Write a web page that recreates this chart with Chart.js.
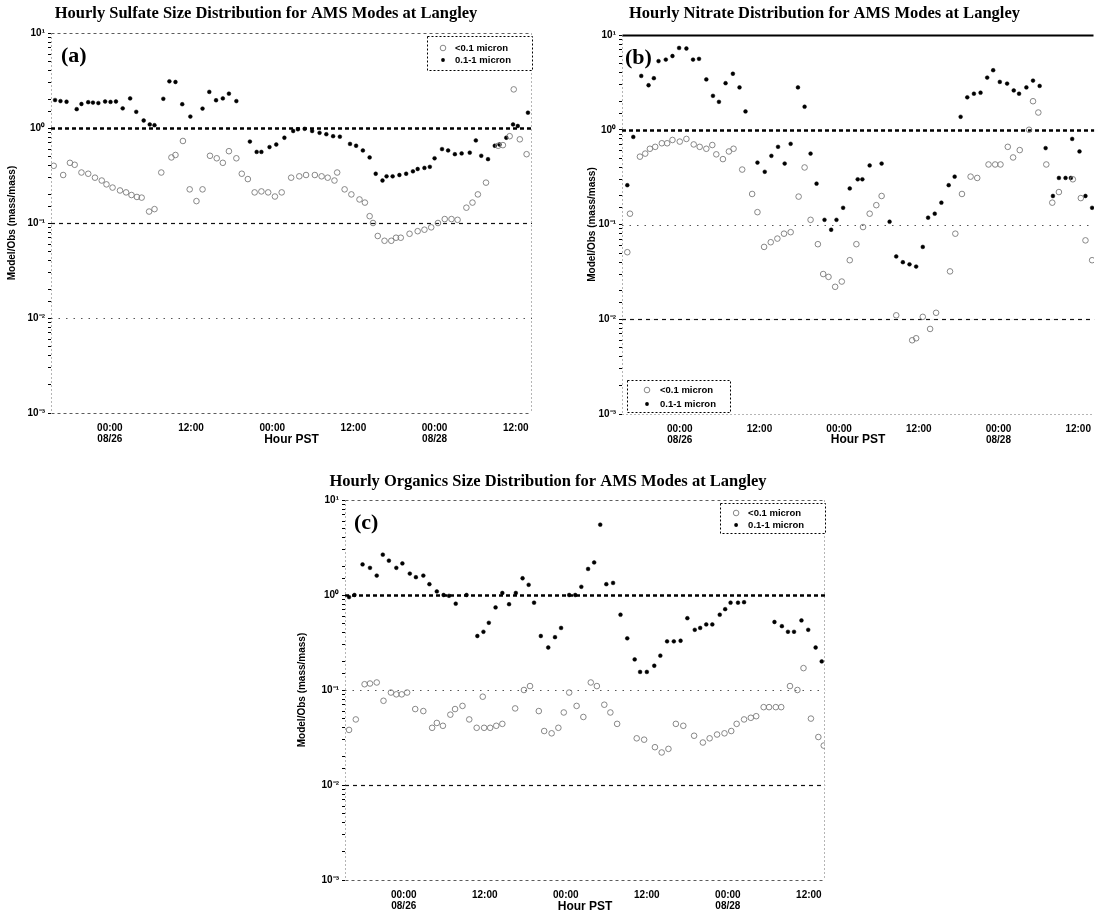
<!DOCTYPE html>
<html>
<head>
<meta charset="utf-8">
<script src="https://cdn.jsdelivr.net/npm/chart.js@4.4.1/dist/chart.umd.min.js"></script>
<style>
  html, body { margin: 0; padding: 0; background: #fff; }
  body { width: 1099px; height: 919px; position: relative; overflow: hidden; }
  .panel { position: absolute; }
  .panel canvas { display: block; }
</style>
</head>
<body>
<div class="panel" style="left:0px;top:0px;"><canvas id="chartA" width="550" height="448"></canvas></div>
<div class="panel" style="left:550px;top:0px;"><canvas id="chartB" width="549" height="448"></canvas></div>
<div class="panel" style="left:270px;top:450px;"><canvas id="chartC" width="560" height="469"></canvas></div>
<script>
// Hours are counted from 08/26 00:00 PST.
const xTickHours = [0, 12, 24, 36, 48, 60];
const xTickLabels = [['00:00', '08/26'], ['12:00'], ['00:00'], ['12:00'], ['00:00', '08/28'], ['12:00']];
const yTickValues = [0.001, 0.01, 0.1, 1, 10];
const yTickLabels = ['10\u207B\u00B3', '10\u207B\u00B2', '10\u207B\u00B9', '10\u2070', '10\u00B9'];
const refLevels = [1, 0.1, 0.01];
const seriesNames = ['<0.1 micron', '0.1-1 micron'];

// Sulfate, <0.1 micron
const sulfateSmallHours = [-8.3,-6.9,-5.9,-5.2,-4.2,-3.2,-2.2,-1.2,-0.5,0.4,1.5,2.4,3.2,4.0,4.7,5.8,6.6,7.6,9.1,9.7,10.8,11.8,12.8,13.7,14.8,15.8,16.7,17.6,18.7,19.5,20.4,21.4,22.4,23.4,24.4,25.4,26.8,28,29,30.3,31.3,32.2,33.2,33.6,34.7,35.7,36.9,37.7,38.4,38.9,39.6,40.6,41.6,42.3,43,44.3,45.5,46.5,47.5,48.5,49.5,50.5,51.4,52.7,53.6,54.4,55.6,57.4,58.1,59.1,59.7,60.6,61.6];
const sulfateSmall = [0.40,0.32,0.43,0.41,0.34,0.33,0.30,0.28,0.255,0.236,0.22,0.21,0.197,0.188,0.185,0.132,0.14,0.34,0.49,0.52,0.73,0.226,0.17,0.226,0.51,0.48,0.43,0.57,0.48,0.33,0.29,0.21,0.215,0.21,0.19,0.21,0.30,0.31,0.32,0.32,0.31,0.30,0.28,0.34,0.226,0.2,0.177,0.164,0.118,0.1,0.073,0.065,0.065,0.07,0.07,0.077,0.082,0.085,0.09,0.1,0.11,0.11,0.108,0.145,0.164,0.2,0.266,0.65,0.66,0.82,2.55,0.76,0.53];
// Sulfate, 0.1-1 micron
const sulfateMidHours = [-8.1,-7.3,-6.4,-4.9,-4.2,-3.2,-2.5,-1.7,-0.7,0.1,0.9,1.9,3.0,3.9,5.0,5.9,6.6,7.9,8.8,9.7,10.7,11.9,13.7,14.7,15.7,16.7,17.6,18.7,20.7,21.7,22.4,23.6,24.6,25.8,27.1,27.8,28.8,29.9,31,32,33,34,35.5,36.4,37.4,38.4,39.3,40.3,40.9,41.8,42.8,43.8,44.8,45.5,46.5,47.3,48,49.1,50,51,52,53.2,54.1,54.9,55.9,56.9,57.6,58.6,59.6,60.3,61.8];
const sulfateMid = [1.97,1.92,1.89,1.58,1.79,1.87,1.85,1.83,1.9,1.88,1.9,1.61,2.05,1.48,1.2,1.09,1.07,2.03,3.1,3.05,1.78,1.32,1.6,2.4,1.96,2.05,2.3,1.92,0.72,0.56,0.56,0.63,0.67,0.79,0.93,0.97,0.98,0.93,0.89,0.86,0.82,0.81,0.68,0.65,0.58,0.49,0.33,0.28,0.31,0.31,0.32,0.33,0.35,0.37,0.38,0.39,0.48,0.6,0.58,0.53,0.54,0.55,0.74,0.51,0.47,0.65,0.67,0.79,1.09,1.05,1.45];

// Nitrate, <0.1 micron
const nitrateSmallHours = [-7.9,-7.5,-6.0,-5.2,-4.5,-3.7,-2.7,-1.9,-1.1,0,1.0,2.1,3.0,4.0,4.9,5.5,6.5,7.4,8.1,9.4,10.9,11.7,12.7,13.7,14.7,15.7,16.7,17.9,18.8,19.7,20.8,21.6,22.4,23.4,24.4,25.6,26.6,27.6,28.6,29.6,30.4,32.6,35.0,35.6,36.6,37.7,38.6,40.7,41.5,42.5,43.8,44.8,46.5,47.5,48.3,49.4,50.2,51.2,52.6,53.2,54.0,55.2,56.1,57.1,59.2,60.4,61.1,62.1];
const nitrateSmall = [0.051,0.13,0.52,0.56,0.63,0.66,0.72,0.72,0.78,0.75,0.8,0.70,0.66,0.63,0.69,0.55,0.49,0.59,0.63,0.38,0.21,0.135,0.058,0.065,0.071,0.08,0.083,0.197,0.40,0.112,0.062,0.030,0.028,0.022,0.025,0.042,0.062,0.094,0.13,0.16,0.2,0.011,0.006,0.0063,0.0106,0.0079,0.0117,0.032,0.08,0.21,0.32,0.31,0.43,0.43,0.43,0.66,0.51,0.61,1.0,2.0,1.52,0.43,0.17,0.22,0.30,0.19,0.068,0.042];
// Nitrate, 0.1-1 micron
const nitrateMidHours = [-7.9,-7.0,-5.8,-4.7,-3.9,-3.2,-2.1,-1.1,-0.1,1.0,2.0,2.9,4.0,5.0,5.9,6.9,8.0,9.0,9.9,11.7,12.8,13.8,14.8,15.8,16.7,17.8,18.8,19.7,20.6,21.8,22.8,23.6,24.6,25.6,26.8,27.5,28.6,30.4,31.6,32.6,33.6,34.6,35.6,36.6,37.4,38.4,39.4,40.5,41.4,42.3,43.3,44.3,45.3,46.3,47.2,48.2,49.3,50.3,51.1,52.2,53.2,54.2,55.1,56.2,57.1,58.1,58.9,59.1,60.2,61.1,62.1];
const nitrateMid = [0.26,0.84,3.7,2.95,3.5,5.3,5.5,6.0,7.3,7.2,5.5,5.6,3.4,2.28,1.97,3.1,3.9,2.8,1.56,0.45,0.36,0.53,0.66,0.44,0.71,2.8,1.75,0.56,0.27,0.112,0.088,0.112,0.15,0.24,0.30,0.30,0.42,0.44,0.107,0.046,0.04,0.038,0.036,0.058,0.118,0.13,0.17,0.26,0.32,1.37,2.2,2.4,2.46,3.55,4.25,3.2,3.07,2.6,2.4,2.8,3.3,2.9,0.64,0.2,0.31,0.31,0.31,0.8,0.59,0.2,0.15];

// Organics, <0.1 micron
const organicsSmallHours = [-8.1,-7.1,-5.8,-5,-4,-3,-1.9,-1.1,-0.3,0.5,1.7,2.9,4.2,4.9,5.8,6.9,7.6,8.7,9.7,10.8,11.7,11.9,12.8,13.7,14.6,16.5,17.8,18.7,20,20.8,21.9,22.9,23.7,24.5,25.6,26.6,27.7,28.6,29.7,30.6,31.6,34.5,35.6,37.2,38.2,39.2,40.3,41.4,43,44.3,45.3,46.4,47.5,48.5,49.3,50.4,51.4,52.2,53.3,54.1,55.1,55.9,57.2,58.3,59.2,60.3,61.4,62.2];
const organicsSmall = [0.038,0.049,0.115,0.117,0.12,0.077,0.094,0.09,0.09,0.094,0.063,0.06,0.04,0.045,0.042,0.055,0.063,0.068,0.049,0.04,0.085,0.04,0.04,0.042,0.044,0.064,0.1,0.11,0.06,0.037,0.035,0.04,0.058,0.094,0.068,0.052,0.12,0.11,0.07,0.058,0.044,0.031,0.030,0.025,0.022,0.024,0.044,0.042,0.033,0.028,0.031,0.034,0.035,0.037,0.044,0.049,0.051,0.053,0.066,0.066,0.066,0.066,0.11,0.1,0.17,0.05,0.032,0.026];
// Organics, 0.1-1 micron
const organicsMidHours = [-8.1,-7.3,-6.1,-5.0,-4.0,-3.1,-2.2,-1.1,-0.2,0.9,1.8,2.9,3.8,4.9,5.9,6.7,7.7,9.3,10.9,11.8,12.6,13.6,14.6,15.6,16.6,17.6,18.5,19.3,20.3,21.4,22.4,23.3,24.5,25.4,26.3,27.3,28.2,29.1,30,31,32.1,33.1,34.2,35,36,37.1,38,39,40,41,42,43.1,43.9,44.8,45.7,46.8,47.6,48.4,49.5,50.4,54.9,56,56.9,57.8,58.9,59.9,61,61.9];
const organicsMid = [0.95,1.0,2.1,1.93,1.6,2.66,2.3,1.93,2.15,1.68,1.54,1.6,1.3,1.09,1.0,0.98,0.81,1.0,0.37,0.41,0.51,0.74,1.05,0.8,1.05,1.5,1.28,0.83,0.37,0.28,0.36,0.45,1.0,1.0,1.22,1.88,2.2,5.5,1.3,1.34,0.62,0.35,0.21,0.155,0.155,0.18,0.23,0.325,0.325,0.33,0.57,0.43,0.45,0.49,0.49,0.62,0.71,0.83,0.83,0.84,0.52,0.47,0.41,0.41,0.54,0.43,0.28,0.2];

const X_MIN = -8.7, X_MAX = 62.4;
const SANS = "'Liberation Sans', Arial, sans-serif";
const SERIF = "'Liberation Serif', 'Times New Roman', serif";

function pairs(hours, values) {
  return hours.map((h, i) => ({ x: h, y: values[i] }));
}

function drawMarker(ctx, kind, x, y) {
  ctx.beginPath();
  ctx.setLineDash([]);
  if (kind === 'open') {
    ctx.arc(x, y, 2.8, 0, Math.PI * 2);
    ctx.lineWidth = 0.9;
    ctx.strokeStyle = '#7a7a7a';
    ctx.stroke();
  } else {
    ctx.arc(x, y, 1.9, 0, Math.PI * 2);
    ctx.fillStyle = '#000';
    ctx.fill();
  }
}

// Reference levels, dashed frame, panel letter and boxed legend.
const panelDecor = {
  id: 'panelDecor',
  beforeDatasetsDraw(chart, args, opts) {
    const { ctx, chartArea: a, scales: { y } } = chart;
    ctx.save();
    opts.refStyles.forEach((s, i) => {
      const py = Math.round(y.getPixelForValue(refLevels[i])) + 0.5;
      ctx.beginPath();
      ctx.setLineDash(s.dash);
      ctx.lineWidth = s.width;
      ctx.strokeStyle = s.color;
      ctx.moveTo(a.left, py);
      ctx.lineTo(a.right, py);
      ctx.stroke();
    });
    const f = opts.frame;
    const edge = (st, x1, y1, x2, y2) => {
      if (!st || !st.width) return;
      ctx.beginPath();
      ctx.setLineDash(st.dash);
      ctx.lineWidth = st.width;
      ctx.strokeStyle = st.color;
      ctx.moveTo(x1, y1);
      ctx.lineTo(x2, y2);
      ctx.stroke();
    };
    const L = Math.round(a.left) + 0.5, R = Math.round(a.right) - 0.5;
    const T = Math.round(a.top) + 0.5, B = Math.round(a.bottom) + 0.5;
    edge(f.top, L, T, R, T);
    edge(f.bottom, L, B, R, B);
    edge(f.left, L, T, L, B);
    edge(f.right, R, T, R, B);
    ctx.restore();
  },
  afterDatasetsDraw(chart, args, opts) {
    const { ctx, chartArea: a } = chart;
    ctx.save();
    ctx.setLineDash([]);
    ctx.fillStyle = '#000';
    ctx.font = 'bold 22px ' + SERIF;
    ctx.textAlign = 'left';
    ctx.textBaseline = 'middle';
    ctx.fillText(opts.letter, a.left + opts.letterDx, a.top + 23);

    const lg = opts.legend;
    const bx = lg.corner === 'tr' ? a.right - lg.w : a.left + lg.dx;
    const by = lg.corner === 'tr' ? a.top + lg.dy : a.bottom - lg.h - lg.dy;
    ctx.fillStyle = '#fff';
    ctx.fillRect(bx, by, lg.w, lg.h);
    ctx.beginPath();
    ctx.setLineDash([2, 2]);
    ctx.lineWidth = 1;
    ctx.strokeStyle = '#000';
    ctx.rect(Math.round(bx) + 0.5, Math.round(by) + 0.5, lg.w, lg.h);
    ctx.stroke();
    ctx.font = 'bold 9.5px ' + SANS;
    ctx.textBaseline = 'middle';
    chart.data.datasets.forEach((ds, i) => {
      const ry = by + lg.row0 + i * lg.rowGap;
      drawMarker(ctx, i === 0 ? 'open' : 'filled', bx + lg.markX, ry);
      ctx.fillStyle = '#000';
      ctx.fillText(ds.label, bx + lg.textX, ry);
    });
    ctx.restore();
  }
};

function makePanel(id, cfg) {
  const datasets = [
    {
      label: seriesNames[0],
      data: pairs(cfg.smallHours, cfg.small),
      pointStyle: 'circle',
      pointRadius: 2.8,
      pointBorderWidth: 0.9,
      pointBackgroundColor: 'rgba(0,0,0,0)',
      pointBorderColor: '#7a7a7a',
      showLine: false
    },
    {
      label: seriesNames[1],
      data: pairs(cfg.midHours, cfg.mid),
      pointStyle: 'circle',
      pointRadius: 1.9,
      pointBorderWidth: 0.5,
      pointBackgroundColor: '#000',
      pointBorderColor: '#000',
      showLine: false
    }
  ];
  return new Chart(document.getElementById(id), {
    type: 'scatter',
    data: { datasets },
    plugins: [panelDecor],
    options: {
      responsive: false,
      animation: false,
      events: [],
      layout: { padding: { left: 0, right: cfg.padRight, top: 0, bottom: 0 } },
      plugins: {
        legend: { display: false },
        tooltip: { enabled: false },
        title: {
          display: true,
          text: cfg.title,
          color: '#000',
          font: { family: SERIF, size: 16.5, weight: 'bold', lineHeight: 1.2 },
          padding: { top: cfg.titleTop, bottom: cfg.titleBottom }
        },
        panelDecor: {
          letter: cfg.letter,
          letterDx: cfg.letterDx,
          refStyles: cfg.refStyles,
          frame: cfg.frame,
          legend: cfg.legend
        }
      },
      scales: {
        x: {
          type: 'linear',
          min: X_MIN,
          max: X_MAX,
          afterFit: (s) => { s.height = cfg.xHeight; s.paddingLeft = 0; s.paddingRight = 0; },
          afterBuildTicks: (s) => { s.ticks = xTickHours.map(v => ({ value: v })); },
          grid: { display: false, drawTicks: false },
          border: { display: false },
          ticks: {
            autoSkip: false,
            maxRotation: 0,
            padding: cfg.xTickPad,
            color: '#000',
            font: { family: SANS, size: 10, weight: 'bold', lineHeight: 1.1 },
            callback: (v) => {
              const k = xTickHours.indexOf(v);
              return k >= 0 ? xTickLabels[k] : '';
            }
          },
          title: {
            display: true,
            text: 'Hour PST',
            color: '#000',
            font: { family: SANS, size: 12, weight: 'bold', lineHeight: 1.2 },
            padding: { top: 0, bottom: cfg.xTitleBottom }
          }
        },
        y: {
          type: 'logarithmic',
          min: 0.001,
          max: 10,
          afterFit: (s) => { s.width = cfg.yWidth; },
          grid: {
            display: true,
            drawOnChartArea: false,
            drawTicks: true,
            tickLength: 3,
            tickColor: '#000',
            tickWidth: 1
          },
          border: { display: false },
          ticks: {
            autoSkip: false,
            padding: 3,
            color: '#000',
            font: { family: SANS, size: 10, weight: 'bold' },
            callback: (v) => {
              const k = yTickValues.findIndex(t => Math.abs(Math.log10(v) - Math.log10(t)) < 1e-6);
              return k >= 0 ? yTickLabels[k] : '';
            }
          },
          title: {
            display: true,
            text: 'Model/Obs (mass/mass)',
            color: '#000',
            font: { family: SANS, size: 10, weight: 'bold', lineHeight: 1.2 },
            padding: { top: cfg.yTitleLeft, bottom: 0 }
          }
        }
      }
    }
  });
}

const heavy = { width: 2.6, dash: [4, 3], color: '#000' };
const dashed = { width: 1.2, dash: [4, 4], color: '#111' };
const dotted = { width: 1, dash: [1.5, 6], color: '#555' };
const thinDash = { width: 0.8, dash: [3, 3], color: '#333' };
const thinDot = { width: 0.8, dash: [1, 3], color: '#444' };

makePanel('chartA', {
  title: 'Hourly Sulfate Size Distribution for AMS Modes at Langley',
  letter: '(a)', letterDx: 10,
  smallHours: sulfateSmallHours, small: sulfateSmall,
  midHours: sulfateMidHours, mid: sulfateMid,
  padRight: 18, yWidth: 51, xHeight: 35, xTickPad: 10,
  titleTop: 4, titleBottom: 9.2,
  xTitleBottom: 1, yTitleLeft: 6,
  refStyles: [heavy, dashed, dotted],
  frame: { top: thinDash, bottom: thinDash, left: thinDot, right: thinDot },
  legend: { corner: 'tr', w: 105, h: 34, dy: 3, row0: 12, rowGap: 12, markX: 16, textX: 28 }
});

makePanel('chartB', {
  title: 'Hourly Nitrate Distribution for AMS Modes at Langley',
  letter: '(b)', letterDx: 3,
  smallHours: nitrateSmallHours, small: nitrateSmall,
  midHours: nitrateMidHours, mid: nitrateMid,
  padRight: 0, yWidth: 72, xHeight: 34, xTickPad: 10,
  titleTop: 4, titleBottom: 11.2,
  xTitleBottom: 1, yTitleLeft: 36,
  refStyles: [heavy, dotted, dashed],
  frame: { top: { width: 2, dash: [], color: '#000' }, bottom: thinDot, left: thinDot, right: null },
  legend: { corner: 'bl', w: 103, h: 32, dx: 5, dy: 2, row0: 10, rowGap: 14, markX: 20, textX: 33 }
});

makePanel('chartC', {
  title: 'Hourly Organics Size Distribution for AMS Modes at Langley',
  letter: '(c)', letterDx: 9,
  smallHours: organicsSmallHours, small: organicsSmall,
  midHours: organicsMidHours, mid: organicsMid,
  padRight: 4, yWidth: 75, xHeight: 39, xTickPad: 10,
  titleTop: 22, titleBottom: 8.2,
  xTitleBottom: 4.8, yTitleLeft: 26,
  refStyles: [heavy, dotted, dashed],
  frame: { top: thinDash, bottom: thinDash, left: thinDot, right: thinDot },
  legend: { corner: 'tr', w: 105, h: 30, dy: 3, row0: 10, rowGap: 12, markX: 16, textX: 28 }
});
</script>
</body>
</html>
